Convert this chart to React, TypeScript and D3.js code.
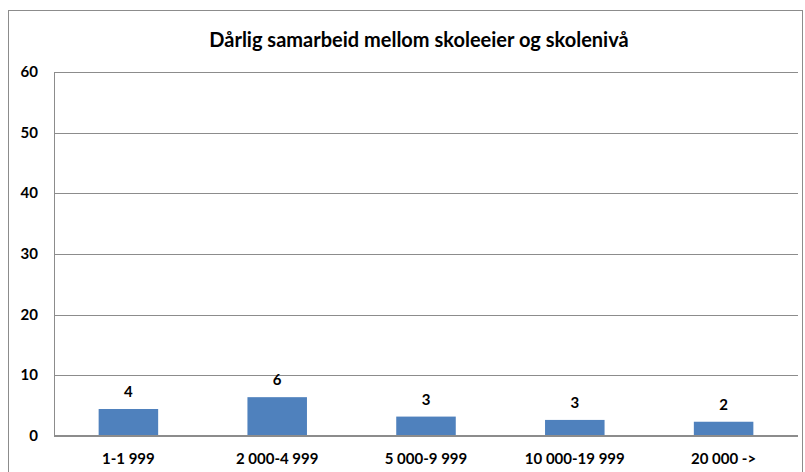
import React, { useEffect, useRef } from 'react';
import * as d3 from 'd3';

const title = 'Dårlig samarbeid mellom skoleeier og skolenivå';
const categories = ['1-1 999', '2 000-4 999', '5 000-9 999', '10 000-19 999', '20 000 ->'];
const values = [4.45, 6.4, 3.2, 2.65, 2.35];
const valueLabels = ['4', '6', '3', '3', '2'];
const yTicks = [0, 10, 20, 30, 40, 50, 60];

const FONT = 'Lato, "Open Sans", sans-serif';

const App = () => {
  const svgRef = useRef<SVGSVGElement>(null);

  useEffect(() => {
    const svg = d3.select(svgRef.current);
    svg.selectAll('*').remove();
    const width = 805;
    const height = 472;
    const margin = { top: 72, right: 7, bottom: 36, left: 54 };

    // chart frame
    svg
      .append('rect')
      .attr('x', 8.5)
      .attr('y', 10.5)
      .attr('width', 794)
      .attr('height', 480)
      .attr('fill', 'white')
      .attr('stroke', '#8c8c8c')
      .attr('stroke-width', 1);

    svg
      .append('text')
      .attr('x', 419)
      .attr('y', 47)
      .attr('text-anchor', 'middle')
      .style('font-family', FONT)
      .style('font-weight', 'bold')
      .style('font-size', '20px')
      .text(title);

    const x = d3
      .scaleBand()
      .domain(categories)
      .range([margin.left, width - margin.right]);

    const y = d3
      .scaleLinear()
      .domain([0, 60])
      .range([height - margin.bottom, margin.top]);

    // gridlines
    svg
      .append('g')
      .selectAll('line')
      .data(yTicks.filter((d) => d > 0))
      .enter()
      .append('line')
      .attr('x1', margin.left)
      .attr('x2', width - margin.right)
      .attr('y1', (d) => Math.round(y(d)) + 0.5)
      .attr('y2', (d) => Math.round(y(d)) + 0.5)
      .attr('stroke', '#8c8c8c')
      .attr('stroke-width', 1);

    // y tick labels
    svg
      .append('g')
      .selectAll('text')
      .data(yTicks)
      .enter()
      .append('text')
      .attr('x', 38)
      .attr('y', (d) => y(d) + 5)
      .attr('text-anchor', 'end')
      .style('font-family', FONT)
      .style('font-weight', 'bold')
      .style('font-size', '15px')
      .text((d) => d);

    // bars
    const barW = x.bandwidth() * 0.4;
    svg
      .append('g')
      .selectAll('rect')
      .data(values)
      .enter()
      .append('rect')
      .attr('x', (d, i) => (x(categories[i]) as number) + (x.bandwidth() - barW) / 2)
      .attr('y', (d) => y(d))
      .attr('width', barW)
      .attr('height', (d) => y(0) - y(d))
      .attr('fill', '#4f81bd');

    // value labels
    svg
      .append('g')
      .selectAll('text')
      .data(values)
      .enter()
      .append('text')
      .attr('x', (d, i) => (x(categories[i]) as number) + x.bandwidth() / 2)
      .attr('y', (d) => y(d) - 12)
      .attr('text-anchor', 'middle')
      .style('font-family', FONT)
      .style('font-weight', 'bold')
      .style('font-size', '15px')
      .text((d, i) => valueLabels[i]);

    // axes lines
    svg
      .append('line')
      .attr('x1', margin.left + 0.5)
      .attr('x2', margin.left + 0.5)
      .attr('y1', margin.top)
      .attr('y2', y(0))
      .attr('stroke', '#8c8c8c')
      .attr('stroke-width', 1);
    svg
      .append('line')
      .attr('x1', margin.left)
      .attr('x2', width - margin.right)
      .attr('y1', y(0))
      .attr('y2', y(0))
      .attr('stroke', '#8c8c8c')
      .attr('stroke-width', 2);

    // x category labels
    svg
      .append('g')
      .selectAll('text')
      .data(categories)
      .enter()
      .append('text')
      .attr('x', (d) => (x(d) as number) + x.bandwidth() / 2)
      .attr('y', 464)
      .attr('text-anchor', 'middle')
      .style('font-family', FONT)
      .style('font-weight', 'bold')
      .style('font-size', '15px')
      .text((d) => d);
  }, []);

  return (
    <svg
      ref={svgRef}
      width={805}
      height={472}
      style={{ position: 'absolute', left: 0, top: 0 }}
    ></svg>
  );
};

export default App;
